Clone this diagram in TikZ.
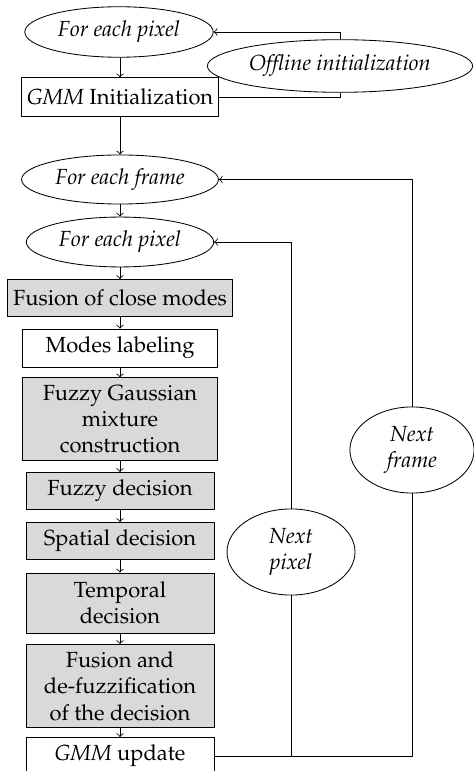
\documentclass[tikz,border=0pt]{standalone}
\usepackage[T1]{fontenc}
\usepackage{mathpazo}
\usetikzlibrary{shapes, calc}

\newcommand{\chartfont}{\fontsize{10.4}{12.5}\selectfont}

\tikzset{
	loopnode/.style={ellipse, draw, inner sep=0pt, font=\chartfont\itshape, align=center},
	stepbox/.style={rectangle, draw, fill=white, align=center, font=\chartfont, inner xsep=2.5pt, minimum height=17.6pt},
	fuzzybox/.style={stepbox, fill=black!15},
}

\begin{document}
\begin{tikzpicture}[x=0.475pt, y=-0.475pt, >=to]
				\useasboundingbox (0,0) rectangle (474,771);
				
				\node[loopnode, minimum width=89.5pt, minimum height=24pt] (pixA) at (119, 32) {For each pixel};
				\node[loopnode, minimum width=126pt, minimum height=25pt] (offline) at (340, 66) {Offline initialization};
				\node[stepbox, minimum width=92.6pt, minimum height=18.3pt] (init) at (120, 97) {\textit{GMM} Initialization};
				\node[loopnode, minimum width=93.5pt, minimum height=23.3pt] (frame) at (120, 179.5) {For each frame};
				\node[loopnode, minimum width=89pt, minimum height=23.7pt] (pixB) at (120, 242) {For each pixel};
				
				\node[fuzzybox, minimum width=106.4pt] (closemodes) at (120, 298) {Fusion of close modes};
				\node[stepbox, minimum width=93pt, minimum height=18pt] (labeling) at (120, 348) {Modes labeling};
				\node[fuzzybox, minimum width=93pt, minimum height=37.5pt] (mixture) at (120, 419) {Fuzzy Gaussian\\mixture\\construction};
				\node[fuzzybox, minimum width=89.3pt] (fuzzydec) at (120, 491) {Fuzzy decision};
				\node[fuzzybox, minimum width=89.3pt] (spatialdec) at (120, 541) {Spatial decision};
				\node[fuzzybox, minimum width=89.3pt, minimum height=28.5pt] (temporaldec) at (120, 603) {Temporal\\decision};
				\node[fuzzybox, minimum width=89.3pt, minimum height=38pt] (defuzz) at (120, 686) {Fusion and\\de-fuzzification\\of the decision};
				\node[stepbox, minimum width=89.3pt] (update) at (120, 756) {\textit{GMM} update};
				
				\node[loopnode, minimum width=60.8pt, minimum height=40.9pt] (nextpix) at (291, 552) {Next\\pixel};
				\node[loopnode, minimum width=59pt, minimum height=40.9pt] (nextframe) at (412, 450) {Next\\frame};
				
				\foreach \a/\b in {pixA/init, init/frame, frame/pixB, pixB/closemodes, closemodes/labeling, labeling/mixture, mixture/fuzzydec, fuzzydec/spatialdec, spatialdec/temporaldec, temporaldec/defuzz, defuzz/update}
					\draw[->] (\a.south -| init) -- (\b.north -| init);
				
				\draw (init.east) -| (offline.south);
				\draw[->] (offline.north) |- (pixA.east);
				
				\draw (update.east) -| (nextframe.south);
				\draw (nextpix.south) -- (nextpix.south |- update.east);
				\draw[->] (nextpix.north) |- (pixB.east);
				\draw[->] (nextframe.north) |- (frame.east);
			\end{tikzpicture}
\end{document}
